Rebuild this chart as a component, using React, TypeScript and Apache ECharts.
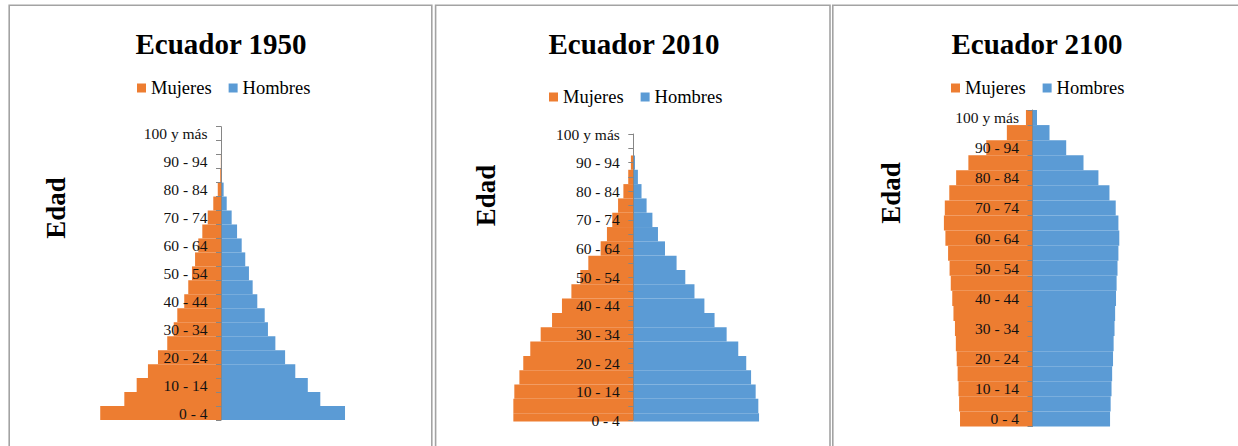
import React, { useEffect, useRef } from "react";
import * as echarts from "echarts";

// Age groups, bottom (youngest) to top (oldest)
const AGE_GROUPS = [
  "0 - 4", "5 - 9", "10 - 14", "15 - 19", "20 - 24", "25 - 29", "30 - 34",
  "35 - 39", "40 - 44", "45 - 49", "50 - 54", "55 - 59", "60 - 64", "65 - 69",
  "70 - 74", "75 - 79", "80 - 84", "85 - 89", "90 - 94", "95 - 99", "100 y más",
];

const SERIES_NAMES = ["Mujeres", "Hombres"];
const PANEL_TITLES = ["Ecuador 1950", "Ecuador 2010", "Ecuador 2100"];
const AXIS_NAME = "Edad";

// Share of total population (%) per age group
const MUJERES_1950 = [7.82, 6.26, 5.46, 4.73, 4.08, 3.48, 3.06, 2.83, 2.38, 2.12, 1.88, 1.68, 1.47, 1.21, 0.86, 0.5, 0.21, 0.05, 0.01, 0.0, 0.0];
const HOMBRES_1950 = [8.03, 6.43, 5.62, 4.81, 4.15, 3.52, 3.04, 2.83, 2.35, 2.05, 1.81, 1.57, 1.34, 1.04, 0.69, 0.37, 0.17, 0.04, 0.01, 0.0, 0.0];

const MUJERES_2010 = [4.96, 4.96, 4.92, 4.71, 4.55, 4.26, 3.83, 3.36, 2.95, 2.56, 2.19, 1.86, 1.35, 1.09, 0.87, 0.63, 0.41, 0.21, 0.1, 0.01, 0.0];
const HOMBRES_2010 = [5.2, 5.17, 5.06, 4.87, 4.67, 4.34, 3.86, 3.36, 2.94, 2.53, 2.15, 1.79, 1.31, 1.02, 0.79, 0.55, 0.34, 0.19, 0.07, 0.01, 0.0];

const MUJERES_2100 = [2.43, 2.46, 2.48, 2.51, 2.54, 2.57, 2.6, 2.65, 2.69, 2.74, 2.78, 2.83, 2.92, 2.97, 2.94, 2.79, 2.56, 2.15, 1.55, 0.86, 0.22];
const HOMBRES_2100 = [2.6, 2.62, 2.65, 2.67, 2.7, 2.72, 2.75, 2.77, 2.8, 2.82, 2.85, 2.88, 2.91, 2.88, 2.79, 2.58, 2.21, 1.71, 1.13, 0.57, 0.15];

const MUJERES = [MUJERES_1950, MUJERES_2010, MUJERES_2100];
const HOMBRES = [HOMBRES_1950, HOMBRES_2010, HOMBRES_2100];

const ORANGE = "#ED7D31";
const BLUE = "#5B9BD5";
const SERIF = "'Liberation Serif', 'Times New Roman', serif";

// Layout of each panel (pixels)
const PANELS = [
  { frame: [9.2, 5.3, 422.6], grid: { left: 82, width: 278, top: 126.7, height: 293.3 }, range: 9, onTicks: false, title: [221, 44], legend: [137, 78.5], edad: [56, 208] },
  { frame: [435.6, 5.3, 394.4], grid: { left: 488.2, width: 290.2, top: 134, height: 286.3 }, range: 6, onTicks: true, title: [634, 44], legend: [549, 87.5], edad: [486.3, 195.5] },
  { frame: [832.8, 5.3, 420], grid: { left: 928.1, width: 208.8, top: 110, height: 316.5 }, range: 3.5, onTicks: false, title: [1037, 44], legend: [951, 78.5], edad: [890.7, 193] },
];

export default function App() {
  const ref = useRef<HTMLDivElement>(null);

  useEffect(() => {
    if (!ref.current) return;
    const chart = echarts.init(ref.current, undefined, { renderer: "svg" });

    const graphics: any[] = [];
    PANELS.forEach((p, i) => {
      // When categories sit on the tick marks, the end bars are cut at the plot edge
      if (p.onTicks) {
        const g = p.grid;
        graphics.push({
          type: "rect",
          z: 3,
          silent: true,
          shape: { x: g.left, y: g.top + g.height + 1.3, width: g.width, height: 12 },
          style: { fill: "#fff" },
        });
        graphics.push({
          type: "rect",
          z: 3,
          silent: true,
          shape: { x: g.left, y: g.top - 12, width: g.width, height: 12 },
          style: { fill: "#fff" },
        });
      }
      graphics.push({
        type: "rect",
        z: 4,
        shape: { x: p.frame[0], y: p.frame[1], width: p.frame[2], height: 500 },
        style: { fill: "none", stroke: "#a3a3a3", lineWidth: 1.6 },
        silent: true,
      });
      graphics.push({
        type: "text",
        x: p.title[0],
        y: p.title[1],
        style: {
          text: PANEL_TITLES[i],
          fontSize: 29,
          fontWeight: "bold",
          fontFamily: SERIF,
          fill: "#000",
          align: "center",
          textAlign: "center",
          verticalAlign: "middle",
          textVerticalAlign: "middle",
        },
      });
      graphics.push({
        type: "text",
        x: p.edad[0],
        y: p.edad[1],
        rotation: Math.PI / 2,
        style: {
          text: AXIS_NAME,
          fontSize: 27,
          fontWeight: "bold",
          fontFamily: SERIF,
          fill: "#000",
          align: "center",
          textAlign: "center",
          verticalAlign: "middle",
          textVerticalAlign: "middle",
        },
      });
    });

    const option: any = {
      animation: false,
      backgroundColor: "#fff",
      graphic: graphics,
      legend: PANELS.map((p) => ({
        data: SERIES_NAMES,
        left: p.legend[0],
        top: p.legend[1],
        padding: 0,
        itemWidth: 9,
        itemHeight: 9,
        itemGap: 17,
        icon: "rect",
        selectedMode: false,
        textStyle: { fontFamily: SERIF, fontSize: 18.5, color: "#000" },
      })),
      grid: PANELS.map((p) => ({ ...p.grid, containLabel: false })),
      xAxis: PANELS.map((p, i) => ({
        type: "value",
        gridIndex: i,
        min: -p.range,
        max: p.range,
        show: false,
      })),
      // The age axis sits at the zero line, between the two halves
      yAxis: PANELS.map((p, i) => ({
        type: "category",
        gridIndex: i,
        data: AGE_GROUPS,
        boundaryGap: !p.onTicks,
        position: "left",
        offset: -p.grid.width / 2,
        z: 5,
        axisLine: { onZero: false, lineStyle: { color: "#868686", width: 1 } },
        axisTick: { show: true, interval: 0, length: 5, inside: false, lineStyle: { color: "#868686" } },
        axisLabel: {
          interval: 1,
          margin: 13.5,
          fontFamily: SERIF,
          fontSize: 15.5,
          color: "#111",
        },
        splitLine: { show: false },
      })),
      series: PANELS.flatMap((p, i) => [
        {
          name: SERIES_NAMES[0],
          type: "bar",
          xAxisIndex: i,
          yAxisIndex: i,
          data: MUJERES[i].map((v) => -v),
          barWidth: "100%",
          barGap: "-100%",
          itemStyle: { color: ORANGE },
          z: 2,
        },
        {
          name: SERIES_NAMES[1],
          type: "bar",
          xAxisIndex: i,
          yAxisIndex: i,
          data: HOMBRES[i],
          barWidth: "100%",
          barGap: "-100%",
          itemStyle: { color: BLUE },
          z: 2,
        },
      ]),
    };

    chart.setOption(option);
    return () => chart.dispose();
  }, []);

  return (
    <div
      ref={ref}
      style={{ position: "fixed", left: 0, top: 0, width: 1238, height: 446, background: "#fff" }}
    />
  );
}
